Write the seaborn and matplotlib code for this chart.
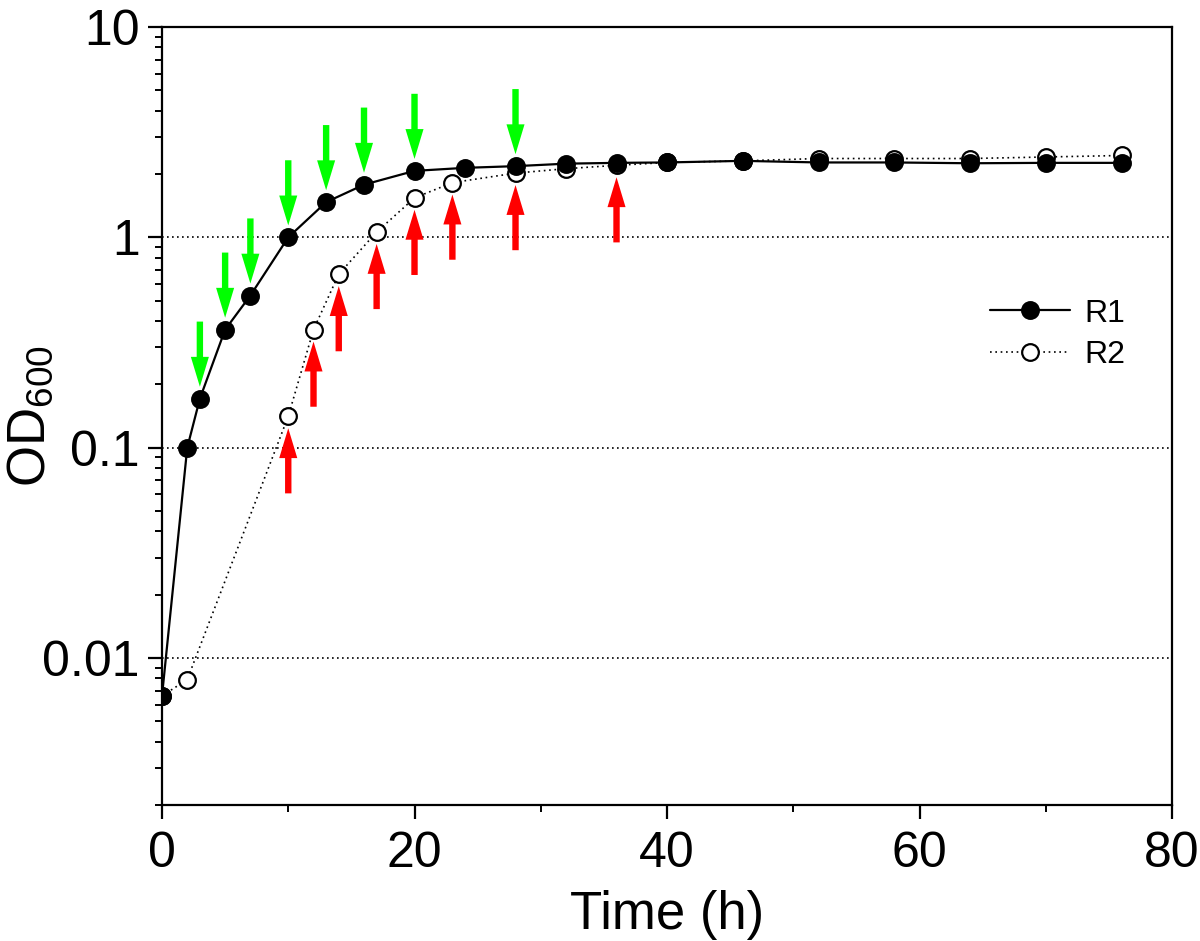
import matplotlib
matplotlib.use('Agg')
import matplotlib.pyplot as plt
import seaborn as sns
import numpy as np
import pandas as pd
from matplotlib.ticker import LogLocator, NullFormatter, FixedLocator, MultipleLocator

# growth data
time_r1 = [0, 2, 3, 5, 7, 10, 13, 16, 20, 24, 28, 32, 36, 40, 46, 52, 58, 64, 70, 76]
od_r1 = [0.0066, 0.100, 0.171, 0.364, 0.529, 1.00, 1.47, 1.78, 2.07, 2.14, 2.18,
         2.24, 2.26, 2.27, 2.31, 2.27, 2.27, 2.25, 2.26, 2.26]

time_r2 = [0, 2, 10, 12, 14, 17, 20, 23, 28, 32, 36, 40, 46, 52, 58, 64, 70, 76]
od_r2 = [0.0066, 0.0079, 0.141, 0.364, 0.668, 1.06, 1.54, 1.82, 2.02, 2.12, 2.20,
         2.27, 2.31, 2.37, 2.37, 2.37, 2.41, 2.45]

# sampling times marked with arrows
green_times = [3, 5, 7, 10, 13, 16, 20, 28]
red_times = [10, 12, 14, 17, 20, 23, 28, 36]

y_ticks = [0.01, 0.1, 1, 10]
y_ticklabels = ['0.01', '0.1', '1', '10']
x_ticks = [0, 20, 40, 60, 80]

df_r1 = pd.DataFrame({'time': time_r1, 'od': od_r1})
df_r2 = pd.DataFrame({'time': time_r2, 'od': od_r2})

sns.set_style('ticks')
plt.rcParams['font.family'] = ['Liberation Sans', 'DejaVu Sans']
plt.rcParams['mathtext.default'] = 'regular'
plt.rcParams['text.color'] = 'black'
plt.rcParams['axes.labelcolor'] = 'black'

fig = plt.figure(figsize=(12, 9.41), dpi=100)
ax = fig.add_axes([0.135, 0.1445, 0.8417, 0.8268])

# R2 first so the filled R1 markers sit on top
sns.lineplot(data=df_r2, x='time', y='od', ax=ax, color='black', linestyle=(0, (1, 2.2)),
             linewidth=1.2, marker='o', markersize=12, markerfacecolor='white',
             markeredgecolor='black', markeredgewidth=1.6, label='R2', zorder=3)
sns.lineplot(data=df_r1, x='time', y='od', ax=ax, color='black', linestyle='-',
             linewidth=1.6, marker='o', markersize=12, markerfacecolor='black',
             markeredgecolor='black', markeredgewidth=1.6, label='R1', zorder=4)

ax.set_yscale('log')
ax.set_xlim(0, 80)
ax.set_ylim(0.002, 10)

arrow_style = 'simple,head_length=21.5,head_width=13,tail_width=4.6'
r1_lookup = dict(zip(time_r1, od_r1))
r2_lookup = dict(zip(time_r2, od_r2))
for t in green_times:
    ax.annotate('', xy=(t, r1_lookup[t]), xytext=(0, 55.5), textcoords='offset points',
                arrowprops=dict(arrowstyle=arrow_style, mutation_scale=1, fc='#00ff00',
                                ec='none', lw=0, shrinkA=0, shrinkB=8.6), zorder=5)
for t in red_times:
    ax.annotate('', xy=(t, r2_lookup[t]), xytext=(0, -55.5), textcoords='offset points',
                arrowprops=dict(arrowstyle=arrow_style, mutation_scale=1, fc='#ff0000',
                                ec='none', lw=0, shrinkA=0, shrinkB=8.6), zorder=5)

ax.yaxis.set_major_locator(FixedLocator(y_ticks))
ax.set_yticklabels(y_ticklabels)
ax.yaxis.set_minor_locator(LogLocator(base=10, subs=np.arange(2, 10)))
ax.yaxis.set_minor_formatter(NullFormatter())
ax.set_xticks(x_ticks)
ax.xaxis.set_minor_locator(MultipleLocator(10))

for y in y_ticks[:-1]:
    ax.axhline(y, color='black', linestyle=(0, (1, 2)), linewidth=1.2, zorder=1)

for s in ax.spines.values():
    s.set_linewidth(1.6)
    s.set_color('black')

ax.tick_params(which='major', direction='out', length=10, width=1.6, color='black',
               labelsize=36, labelcolor='black')
ax.tick_params(which='minor', direction='out', length=5.2, width=1.4, color='black')
ax.tick_params(axis='x', which='major', pad=9)
ax.tick_params(axis='y', which='major', pad=6)

ax.set_xlabel('Time (h)', fontsize=38, labelpad=9, color='black')
ax.set_ylabel('OD$_{600}$', fontsize=38, color='black')
ax.yaxis.set_label_coords(-0.105, 0.5)

handles, labels = ax.get_legend_handles_labels()
order = [labels.index('R1'), labels.index('R2')]
ax.legend([handles[i] for i in order], [labels[i] for i in order],
          loc='upper left', bbox_to_anchor=(0.82, 0.651), frameon=False, fontsize=23,
          handlelength=2.5, handletextpad=0.45, labelspacing=0.35, borderpad=0,
          borderaxespad=0)

fig.savefig('out.png', dpi=100)
